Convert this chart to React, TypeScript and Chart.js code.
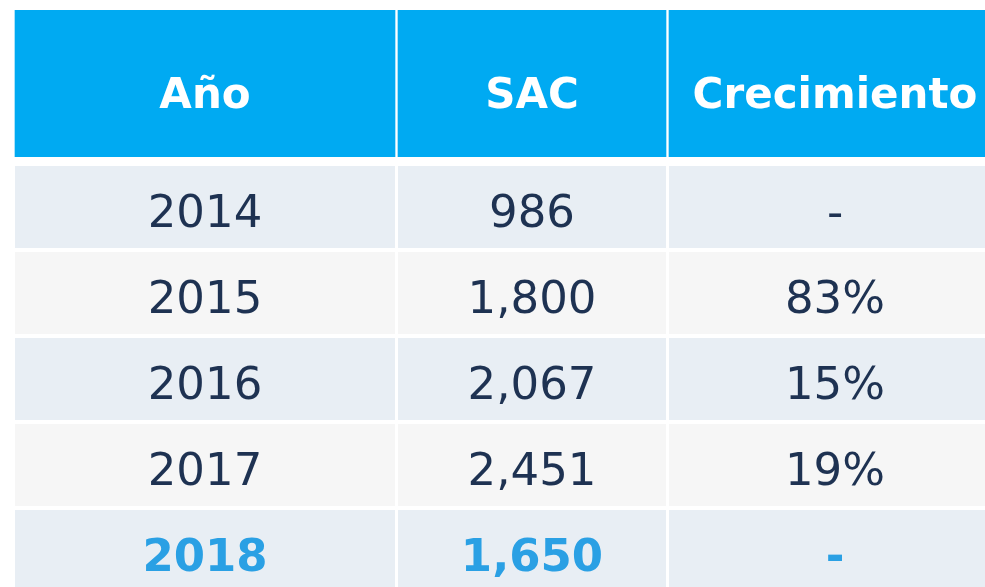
import React, { useEffect, useRef } from "react";
import { Chart, registerables } from "chart.js";

Chart.register(...registerables);

// ---- data ----
const headers: string[] = ["Año", "SAC", "Crecimiento"];
const years: string[] = ["2014", "2015", "2016", "2017", "2018"];
const sacValues: number[] = [986, 1800, 2067, 2451, 1650];
const growthLabels: string[] = ["-", "83%", "15%", "19%", "-"];
const highlightedYear = "2018";

// ---- layout / style (not data) ----
const COLUMN_SPANS: [number, number][] = [
  [15, 395],
  [398, 666],
  [669, 1001],
];
const X_MAX = 985;
const FONT = "'DejaVu Sans', sans-serif";
const HEADER_BG = "#00AAF2";
const ROW_BG_ODD = "#E8EEF4";
const ROW_BG_EVEN = "#F6F6F6";
const TEXT_DARK = "#1E3252";
const TEXT_HIGHLIGHT = "#2AA0E4";

const fmt = (n: number) => n.toLocaleString("en-US");

type CellStyle = { font: string; color: string; offset: number };

function makeCellTextPlugin(styleFor: (i: number) => CellStyle) {
  return {
    id: "cellText",
    afterDatasetsDraw(chart: any) {
      const ctx = chart.ctx;
      chart.data.datasets.forEach((ds: any, di: number) => {
        const meta = chart.getDatasetMeta(di);
        meta.data.forEach((el: any, i: number) => {
          const { x, y, base } = el.getProps(["x", "y", "base"], true);
          const s = styleFor(i);
          ctx.save();
          ctx.font = s.font;
          ctx.fillStyle = s.color;
          ctx.textAlign = "center";
          ctx.textBaseline = "alphabetic";
          ctx.fillText(ds.cellTexts[i], (x + base) / 2, y + s.offset);
          ctx.restore();
        });
      });
    },
  };
}

function makeOptions(barPercentage: number): any {
  return {
    indexAxis: "y",
    responsive: false,
    animation: false,
    events: [],
    layout: { padding: 0 },
    datasets: { bar: { grouped: false, categoryPercentage: 1, barPercentage } },
    scales: {
      x: { type: "linear", min: 0, max: X_MAX, display: false },
      y: { type: "category", display: false, offset: true },
    },
    plugins: {
      legend: { display: false },
      tooltip: { enabled: false },
      title: { display: false },
    },
  };
}

export default function App() {
  const headRef = useRef<HTMLCanvasElement>(null);
  const bodyRef = useRef<HTMLCanvasElement>(null);

  useEffect(() => {
    const columnTexts: string[][] = [years, sacValues.map(fmt), growthLabels];

    const head = new Chart(headRef.current!, {
      type: "bar",
      data: {
        labels: ["header"],
        datasets: headers.map((h, c) => ({
          label: h,
          data: [COLUMN_SPANS[c]],
          backgroundColor: HEADER_BG,
          borderWidth: 0,
          cellTexts: [h],
        })) as any,
      },
      options: makeOptions(1),
      plugins: [
        makeCellTextPlugin(() => ({
          font: `bold 42px ${FONT}`,
          color: "#FFFFFF",
          offset: 24,
        })),
      ],
    });

    const rowBg = years.map((_, i) => (i % 2 === 0 ? ROW_BG_ODD : ROW_BG_EVEN));
    const body = new Chart(bodyRef.current!, {
      type: "bar",
      data: {
        labels: years,
        datasets: headers.map((h, c) => ({
          label: h,
          data: years.map(() => COLUMN_SPANS[c]),
          backgroundColor: rowBg,
          borderWidth: 0,
          cellTexts: columnTexts[c],
        })) as any,
      },
      options: makeOptions(82 / 86),
      plugins: [
        makeCellTextPlugin((i: number) => {
          const hi = years[i] === highlightedYear;
          return {
            font: `${hi ? "bold " : ""}45px ${FONT}`,
            color: hi ? TEXT_HIGHLIGHT : TEXT_DARK,
            offset: 20,
          };
        }),
      ],
    });

    return () => {
      head.destroy();
      body.destroy();
    };
  }, []);

  return (
    <div
      style={{
        position: "absolute",
        left: 0,
        top: 0,
        width: 985,
        height: 587,
        overflow: "hidden",
        background: "#FFFFFF",
      }}
    >
      <canvas
        ref={headRef}
        width={985}
        height={147}
        style={{ position: "absolute", left: 0, top: 10, width: 985, height: 147 }}
      />
      <canvas
        ref={bodyRef}
        width={985}
        height={430}
        style={{ position: "absolute", left: 0, top: 164, width: 985, height: 430 }}
      />
    </div>
  );
}
